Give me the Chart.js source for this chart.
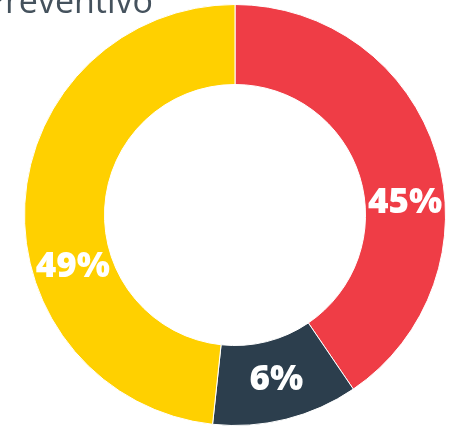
<!DOCTYPE html>
<html>
<head>
<meta charset="utf-8">
<script src="https://cdn.jsdelivr.net/npm/chart.js@4/dist/chart.umd.min.js"></script>
<style>
  html, body { margin: 0; padding: 0; background: #fff; }
  #wrap { width: 468px; height: 426px; }
</style>
</head>
<body>
<div id="wrap"><canvas id="graficoDona"></canvas></div>
<script>
const categorias = ["Correctivo", "Predictivo", "Preventivo"]
const valores = [40.5, 11.2, 48.3]
const etiquetas = ["45%", "6%", "49%"]
const colores = ["#ef3d46", "#2c3e4d", "#ffd000"]

// textos de leyenda recortados arriba + porcentajes sobre cada arco
const textos = {
  id: "textos",
  afterDatasetsDraw(chart) {
    const ctx = chart.ctx
    ctx.save()
    ctx.font = '34px "Open Sans"'
    ctx.fillStyle = "#45525d"
    ctx.textAlign = "right"
    ctx.textBaseline = "alphabetic"
    ctx.fillText("Preventivo", 153, 13)
    ctx.fillStyle = "#eceef0"
    ctx.textAlign = "left"
    ctx.fillText("Correctivo", 292, -1)

    const giro = [13, 0, -21]
    ctx.font = '800 35px "Open Sans"'
    ctx.fillStyle = "#ffffff"
    ctx.textAlign = "center"
    ctx.textBaseline = "middle"
    chart.getDatasetMeta(0).data.forEach((arco, i) => {
      const a = (arco.startAngle + arco.endAngle) / 2 + giro[i] * Math.PI / 180
      const r = (arco.innerRadius + arco.outerRadius) / 2
      ctx.fillText(etiquetas[i], arco.x + Math.cos(a) * r, arco.y + Math.sin(a) * r)
    })
    ctx.restore()
  },
}

const dona = document.getElementById("graficoDona")

new Chart(dona, {
  type: "doughnut",
  data: {
    labels: categorias,
    datasets: [
      {
        data: valores,
        backgroundColor: colores,
        borderColor: "#ffffff",
        borderWidth: 1,
      },
    ],
  },
  options: {
    responsive: true,
    maintainAspectRatio: false,
    animation: false,
    cutout: "62%",
    layout: { padding: { left: 24, right: 22, top: 4, bottom: 0 } },
    plugins: {
      legend: { display: false },
      tooltip: { enabled: false },
    },
  },
  plugins: [textos],
})
</script>
</body>
</html>
